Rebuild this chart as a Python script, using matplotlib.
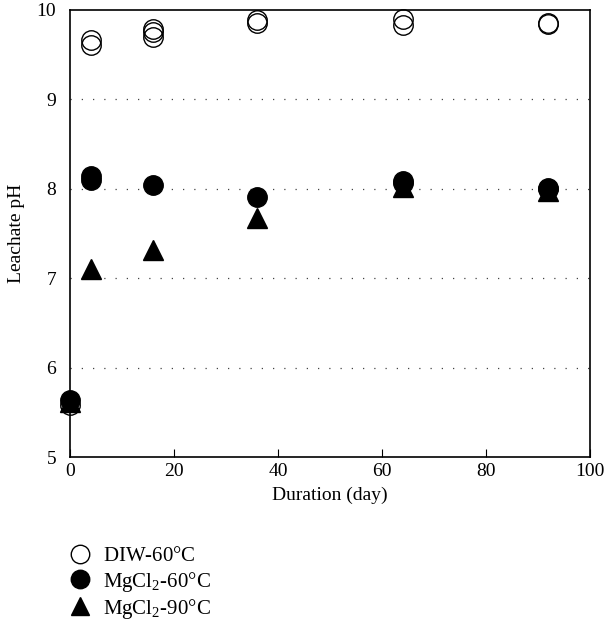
import matplotlib

matplotlib.use("Agg")
import matplotlib.pyplot as plt

plt.rcParams["font.family"] = ["Liberation Serif", "DejaVu Serif"]
plt.rcParams["mathtext.fontset"] = "custom"
plt.rcParams["mathtext.rm"] = "Liberation Serif"

# duplicate measurements per sampling day
DIW_DAYS = [0, 4, 4, 16, 16, 16, 36, 36, 64, 64, 92, 92]
DIW_PH = [5.58, 9.61, 9.66, 9.70, 9.75, 9.79, 9.85, 9.89, 9.83, 9.90, 9.84, 9.86]

MG60_DAYS = [0, 4, 4, 16, 36, 64, 64, 92, 92]
MG60_PH = [5.64, 8.10, 8.14, 8.04, 7.91, 8.06, 8.09, 8.00, 8.01]

MG90_DAYS = [0, 4, 16, 36, 64, 92]
MG90_PH = [5.62, 7.10, 7.32, 7.67, 8.02, 7.97]

X_TICKS = [0, 20, 40, 60, 80, 100]
Y_TICKS = [5, 6, 7, 8, 9, 10]

fig = plt.figure(figsize=(6.06, 6.25), dpi=100)
ax = fig.add_axes([0.1155, 0.2688, 0.858, 0.7152])

ax.plot(MG90_DAYS, MG90_PH, "^", ms=14, color="black", clip_on=False,
        label="MgCl$_2$-90$\\degree$C")
ax.plot(MG60_DAYS, MG60_PH, "o", ms=14, color="black", clip_on=False,
        label="MgCl$_2$-60$\\degree$C")
ax.plot(DIW_DAYS, DIW_PH, "o", ms=14, mfc="none", mec="black", mew=1.0,
        clip_on=False, label="DIW-60$\\degree$C")

# dotted guide lines at interior ticks
for y in Y_TICKS[1:-1]:
    ax.axhline(y, color="#444444", lw=0.9, ls=(0, (1, 8)), zorder=0)

ax.set_xlim(0, 100)
ax.set_ylim(5, 10)
ax.set_xticks(X_TICKS)
ax.set_yticks(Y_TICKS)
ax.tick_params(axis="x", direction="in", length=6, labelsize=14, pad=4)
ax.tick_params(axis="y", length=0, labelsize=14, pad=10)
for s in ax.spines.values():
    s.set_linewidth(1.2)

ax.set_xlabel("Duration (day)", fontsize=14, labelpad=5)
ax.set_ylabel("Leachate pH", fontsize=14, labelpad=8)

h, l = ax.get_legend_handles_labels()
fig.legend(h[::-1], l[::-1], loc="upper left", bbox_to_anchor=(0.08, 0.155),
           frameon=False, fontsize=15, handletextpad=0.5, labelspacing=0.15,
           handlelength=1.2, markerscale=0.95)

fig.savefig("out.png", dpi=100, facecolor="white")
